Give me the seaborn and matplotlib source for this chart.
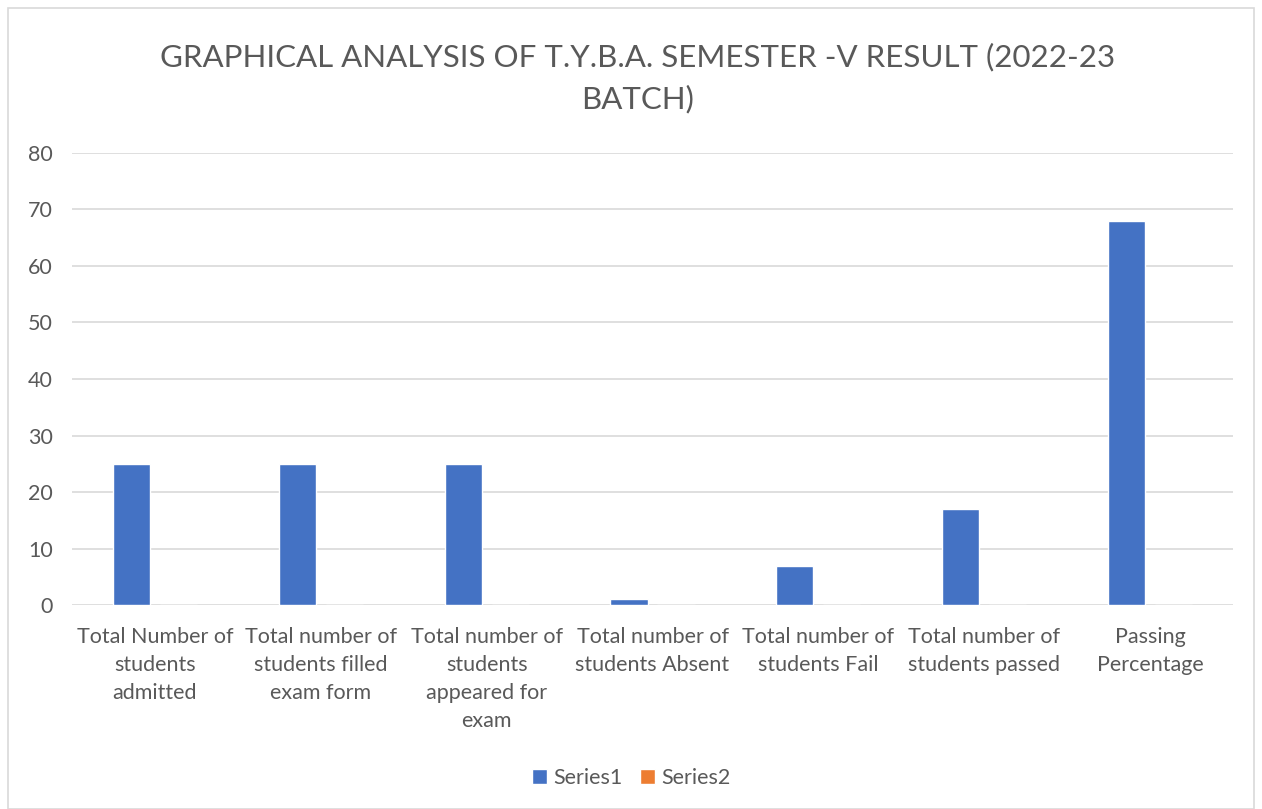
import seaborn as sns
import matplotlib.pyplot as plt
import pandas as pd
from matplotlib.patches import Rectangle

categories = [
    'Total Number of\nstudents\nadmitted',
    'Total number of\nstudents filled\nexam form',
    'Total number of\nstudents\nappeared for\nexam',
    'Total number of\nstudents Absent',
    'Total number of\nstudents Fail',
    'Total number of\nstudents passed',
    'Passing\nPercentage',
]
series1 = [25, 25, 25, 1, 7, 17, 68]
series2 = [0, 0, 0, 0, 0, 0, 0]

df = pd.DataFrame({
    'category': categories * 2,
    'value': series1 + series2,
    'series': ['Series1'] * len(categories) + ['Series2'] * len(categories),
})

sns.set_style('white')
plt.rcParams['font.family'] = ['Lato', 'DejaVu Sans']

fig = plt.figure(figsize=(12.62, 8.09), dpi=100)
ax = fig.add_axes([0.0571, 0.252, 0.977 - 0.0571, 0.811 - 0.252])

sns.barplot(data=df, x='category', y='value', hue='series',
            palette=['#4472C4', '#ED7D31'], width=0.567, gap=0.21,
            saturation=1, ax=ax, legend=True)

ax.set_ylim(0, 80)
ax.set_yticks(range(0, 81, 10))
ax.set_xlim(-0.5, len(categories) - 0.5)
ax.set_xticks(range(len(categories)))
ax.set_xticklabels(categories, linespacing=1.5, va='top')
ax.grid(axis='y', color='#D9D9D9', linewidth=1.2)
ax.set_axisbelow(True)
for s in ax.spines.values():
    s.set_visible(False)
ax.set_xlabel('')
ax.set_ylabel('')
ax.tick_params(axis='both', length=0, colors='#595959', labelsize=15.5)
ax.tick_params(axis='x', pad=16)
ax.tick_params(axis='y', pad=14)

leg = ax.legend(loc='center', ncol=2, frameon=False, fontsize=15.5,
                handlelength=0.7, handleheight=0.7,
                handletextpad=0.3, columnspacing=0.8, labelcolor='#595959')
leg.set_bbox_to_anchor((0.5, 1 - 778 / 809), transform=fig.transFigure)

fig.text(0.505, 1 - 78 / 809, 'GRAPHICAL ANALYSIS OF T.Y.B.A. SEMESTER -V RESULT (2022-23\nBATCH)',
         ha='center', va='center', fontsize=22.5, color='#595959', linespacing=1.55)

fig.patches.append(Rectangle((8 / 1262, 0), 1 - 16 / 1262, 1 - 8 / 809, transform=fig.transFigure,
                             fill=False, edgecolor='#D9D9D9', linewidth=1.2))

fig.savefig('out.png', dpi=100)
